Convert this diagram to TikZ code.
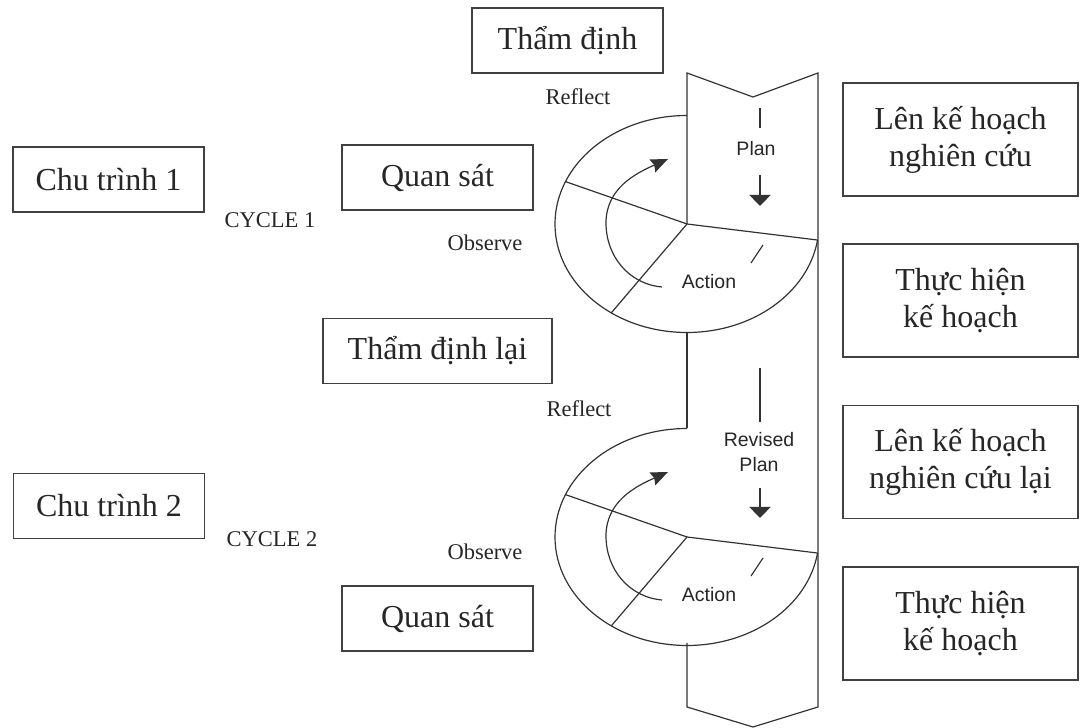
\documentclass[tikz,border=0pt]{standalone}
\usepackage{fontspec}
\setmainfont{Liberation Serif}
\newfontfamily\labelsf{Liberation Sans}
\usetikzlibrary{arrows.meta}

\tikzset{
  box/.style={draw=black!75, line width=1.3pt, minimum width=191pt, minimum height=65pt,
    align=center, inner sep=0pt, font=\fontsize{32}{37}\selectfont},
  bigbox/.style={box, minimum width=235pt, minimum height=113pt},
  lbl/.style={font=\fontsize{22.5}{26}\selectfont},
  sflbl/.style={font=\labelsf\fontsize{19.5}{25}\selectfont, align=center},
  ln/.style={line width=1.2pt, draw=black!80}
}

\begin{document}
\begin{tikzpicture}[x=1pt, y=1pt, text=black!85]
    \useasboundingbox (0,0) rectangle (1082,728);
    % the band
    \draw[ln] (687,504) -- (687,655) -- (753,631) -- (818,655) -- (818,21) -- (753,1) -- (687,21) -- (687,85);
    \draw[ln] (687,396) -- (687,300);
    \begin{scope}
      \coordinate (hub1) at (687,504);
      \draw[ln] (hub1) ++(90:132 and 108.5) arc[start angle=90, end angle=351.5, x radius=132, y radius=108.5] coordinate (rim1);
      \draw[ln] (hub1) -- (rim1);
      \draw[ln] (hub1) -- ++(157:132 and 108.5);
      \draw[ln] (hub1) -- ++(235:132 and 108.5);
      \draw[ln, -{Stealth[length=17pt,width=14pt,inset=2pt]}] (662,441) to[out=175,in=270] (606,505) to[out=90,in=204] (668,569);
      \draw[ln] (763,483) -- (751,465);
      \node[sflbl] (act1) at (709,446) {Action};
    \end{scope}
    \begin{scope}[yshift=-313pt]
      \coordinate (hub2) at (687,504);
      \draw[ln] (hub2) ++(90:132 and 108.5) arc[start angle=90, end angle=351.5, x radius=132, y radius=108.5] coordinate (rim2);
      \draw[ln] (hub2) -- (rim2);
      \draw[ln] (hub2) -- ++(157:132 and 108.5);
      \draw[ln] (hub2) -- ++(235:132 and 108.5);
      \draw[ln, -{Stealth[length=17pt,width=14pt,inset=2pt]}] (662,441) to[out=175,in=270] (606,505) to[out=90,in=204] (668,569);
      \draw[ln] (763,483) -- (751,465);
      \node[sflbl] (act2) at (709,446) {Action};
    \end{scope}
    % plan arrows
    \draw[ln] (760,620) -- (760,600);
    \node[sflbl] (plan) at (756,579) {Plan};
    \draw[ln, -{Triangle[length=11pt,width=21pt]}] (760,553) -- (760,522);
    \draw[ln] (760,360) -- (760,306);
    \node[sflbl] (rplan) at (759,276) {Revised\\Plan};
    \draw[ln, -{Triangle[length=11pt,width=21pt]}] (760,240) -- (760,210);
    % left side
    \node[box] (chu1) at (108.5,548.5) {Chu trình 1};
    \node[lbl] (cyc1) at (270,508) {CYCLE 1};
    \node[box] (qs1) at (437.5,550.5) {Quan sát};
    \node[lbl] (obs1) at (485,485) {Observe};
    \node[box] (td) at (567.5,687.5) {Thẩm định};
    \node[lbl] (ref1) at (578,631) {Reflect};
    \node[box, minimum width=229pt] (tdl) at (437.5,377) {Thẩm định lại};
    \node[lbl] (ref2) at (579,319) {Reflect};
    \node[box] (chu2) at (109,222) {Chu trình 2};
    \node[lbl] (cyc2) at (272,189) {CYCLE 2};
    \node[lbl] (obs2) at (485,176) {Observe};
    \node[box] (qs2) at (437.5,109.5) {Quan sát};
    % right side
    \node[bigbox] (len1) at (960.5,588.5) {Lên kế hoạch\\nghiên cứu};
    \node[bigbox] (th1) at (960.5,427.5) {Thực hiện\\kế hoạch};
    \node[bigbox] (len2) at (960.5,266) {Lên kế hoạch\\nghiên cứu lại};
    \node[bigbox] (th2) at (960.5,104.5) {Thực hiện\\kế hoạch};
\end{tikzpicture}
\end{document}
